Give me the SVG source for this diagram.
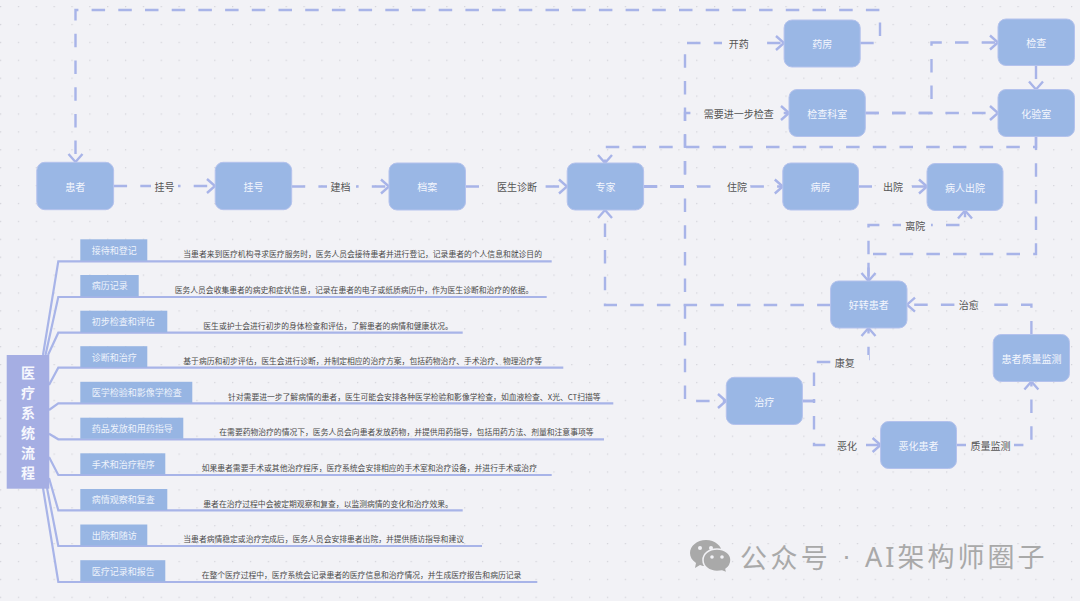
<svg xmlns="http://www.w3.org/2000/svg" width="1080" height="601" viewBox="0 0 1080 601">
<style>
text{font-family:"Noto Sans CJK SC","Liberation Sans",sans-serif}
.n rect{fill:#9ab7e5;stroke:#b4c2ed;stroke-width:1}
.n text{fill:#f4f6fd;font-size:10px;text-anchor:middle;dominant-baseline:central}
.c{fill:none;stroke:#a8b4e8;stroke-width:2.400;stroke-dasharray:13.5 13.2}
.h{marker-end:url(#a)}
.lb rect{fill:#f2f2f6}
.lb text{fill:#555;font-size:10px;text-anchor:middle;dominant-baseline:central}
.b{fill:none;stroke:#a8b4e8;stroke-width:2.200}
.s rect{fill:#97b5e3}
.s text{fill:#eef3fb;font-size:9px;dominant-baseline:central}
.d{fill:#4a4a4a;font-size:7.8px;dominant-baseline:central}
.w{fill:#a9a9a9;font-size:27px;dominant-baseline:central}
</style>
<defs>
<pattern id="p" x="0" y="6" width="17.85" height="17.9" patternUnits="userSpaceOnUse"><circle cx="0.7" cy="0.7" r="0.6" fill="#c9c9d0"/></pattern>
<marker id="a" markerUnits="userSpaceOnUse" markerWidth="20" markerHeight="20" refX="10" refY="10" orient="auto"><path d="M2 3L10 10L2 17" fill="none" stroke="#a8b4e8" stroke-width="2.400"/></marker>
</defs>
<rect width="1080" height="601" fill="#f2f2f6"/>
<rect width="1080" height="601" fill="url(#p)"/>

<g id="connectors">
<path class="c h" d="M860.2 43H880V10H75.5V162"/>
<path class="c h" d="M113.6 186H215"/>
<path class="c h" d="M291.7 186.5H389"/>
<path class="c h" d="M465.5 186.5H567"/>
<path class="c h" d="M643.6 186.5H782.8"/>
<path class="c h" d="M643.6 186.5H685V43H784"/>
<path class="c h" d="M643.6 186.5H685V113H789"/>
<path class="c h" d="M643.6 186.5H685V401H726"/>
<path class="c h" d="M865.3 113H998"/>
<path class="c h" d="M865.3 113H931.5V42.5H998"/>
<path class="c h" d="M1036 65.5V89.5"/>
<path class="c h" d="M1036 136.5V147H605V163"/>
<path class="c h" d="M1036 136.5V254H868.5V281"/>
<path class="c h" d="M858.5 186.5H927"/>
<path class="c h" d="M868.5 281V225H965V210.5"/>
<path class="c h" d="M830.6 305H605V210"/>
<path class="c h" d="M1031.4 334.5V304.7H907"/>
<path class="c h" d="M956.5 445H1031.4V381.5"/>
<path class="c h" d="M802.4 401H814V362H868.5V328"/>
<path class="c h" d="M802.4 401H814V445H880.6"/>
</g>

<g id="edge-labels" class="lb">
<rect x="151" y="179" width="27" height="14"/><text x="164.5" y="186">挂号</text>
<rect x="327" y="179" width="29" height="14"/><text x="340.5" y="186.5">建档</text>
<rect x="491" y="179" width="52" height="14"/><text x="517" y="186.5">医生诊断</text>
<rect x="712" y="179" width="38" height="14"/><text x="737" y="186.5">住院</text>
<rect x="722" y="36" width="32" height="14"/><text x="738.7" y="43">开药</text>
<rect x="698" y="106" width="81" height="14"/><text x="738.7" y="113">需要进一步检查</text>
<rect x="876" y="179" width="35" height="14"/><text x="893" y="186.5">出院</text>
<rect x="901" y="218" width="30" height="14"/><text x="915.3" y="225">离院</text>
<rect x="955" y="297" width="29" height="14"/><text x="968.7" y="304.5">治愈</text>
<rect x="832" y="355" width="37" height="14"/><text x="844.8" y="362">康复</text>
<rect x="826" y="438" width="40" height="14"/><text x="847" y="445">恶化</text>
<rect x="966" y="438" width="48" height="14"/><text x="990.4" y="445">质量监测</text>
</g>

<g id="n-huanzhe" class="n"><rect x="36.8" y="162.3" width="76.8" height="47.4" rx="8"/><text x="75.2" y="186">患者</text></g>
<g id="n-guahao" class="n"><rect x="215.2" y="162.3" width="76.5" height="47.4" rx="8"/><text x="253.5" y="186">挂号</text></g>
<g id="n-dangan" class="n"><rect x="389" y="163" width="76.5" height="47" rx="8"/><text x="427.2" y="186.5">档案</text></g>
<g id="n-zhuanjia" class="n"><rect x="567.2" y="163" width="76.4" height="47" rx="8"/><text x="605.4" y="186.5">专家</text></g>
<g id="n-yaofang" class="n"><rect x="784.1" y="20" width="76.1" height="47" rx="8"/><text x="822.2" y="43.5">药房</text></g>
<g id="n-jianchakeshi" class="n"><rect x="789" y="89.5" width="76.3" height="47" rx="8"/><text x="827.2" y="113">检查科室</text></g>
<g id="n-jiancha" class="n"><rect x="998" y="19" width="76.5" height="46.5" rx="8"/><text x="1036.2" y="42.3">检查</text></g>
<g id="n-huayanshi" class="n"><rect x="998" y="89.5" width="76.5" height="47" rx="8"/><text x="1036.2" y="113">化验室</text></g>
<g id="n-bingfang" class="n"><rect x="782.8" y="163" width="75.7" height="47" rx="8"/><text x="820.6" y="186.5">病房</text></g>
<g id="n-chuyuan" class="n"><rect x="927" y="163.5" width="76" height="47" rx="8"/><text x="965" y="187">病人出院</text></g>
<g id="n-haozhuan" class="n"><rect x="830.6" y="281" width="76.4" height="47" rx="8"/><text x="868.8" y="304.5">好转患者</text></g>
<g id="n-zhiliao" class="n"><rect x="726.3" y="377.3" width="76.1" height="47.2" rx="8"/><text x="764.3" y="401">治疗</text></g>
<g id="n-ehua" class="n"><rect x="880.6" y="421.5" width="75.9" height="47" rx="8"/><text x="918.5" y="445">恶化患者</text></g>
<g id="n-jiance" class="n"><rect x="993.2" y="334.5" width="76.3" height="47" rx="8"/><text x="1031.4" y="358">患者质量监测</text></g>

<g id="mindmap-branches">
<path class="b" d="M43 355L58.3 261.3H551.7"/>
<path class="b" d="M45.5 355L58.3 297H546.7"/>
<path class="b" d="M48 355L58.3 332.7H462.7"/>
<path class="b" d="M49 385L58.3 367.7H563.3"/>
<path class="b" d="M49 410L58.3 403.3H613.3"/>
<path class="b" d="M49 433.7L58.3 439.3H604"/>
<path class="b" d="M49 457L58.3 475H551.7"/>
<path class="b" d="M49 478L58.3 510.3H462.7"/>
<path class="b" d="M47 488L58.3 546H482"/>
<path class="b" d="M43 488L58.3 582H537.3"/>
</g>

<g id="root"><rect x="6.7" y="355" width="42.6" height="133.7" fill="#a5aee3"/>
<g fill="#f6f7fd" font-size="14px" font-weight="700" text-anchor="middle" dominant-baseline="central">
<text x="28" y="372">医</text><text x="28" y="392">疗</text><text x="28" y="412">系</text><text x="28" y="432">统</text><text x="28" y="452">流</text><text x="28" y="472">程</text></g></g>

<g id="t1" class="s"><rect x="80.3" y="239.3" width="67" height="21.5"/><text x="91.7" y="250">接待和登记</text></g>
<g id="t2" class="s"><rect x="80.3" y="275" width="58.4" height="21.5"/><text x="91.7" y="285.8">病历记录</text></g>
<g id="t3" class="s"><rect x="80.3" y="310.7" width="87" height="21.5"/><text x="91.7" y="321.5">初步检查和评估</text></g>
<g id="t4" class="s"><rect x="80.3" y="346.2" width="67" height="21"/><text x="91.7" y="357">诊断和治疗</text></g>
<g id="t5" class="s"><rect x="80.3" y="381.8" width="112" height="21"/><text x="91.7" y="392.7">医学检验和影像学检查</text></g>
<g id="t6" class="s"><rect x="80.3" y="417.7" width="103" height="21"/><text x="91.7" y="428.5">药品发放和用药指导</text></g>
<g id="t7" class="s"><rect x="80.3" y="453.3" width="85" height="21"/><text x="91.7" y="464">手术和治疗程序</text></g>
<g id="t8" class="s"><rect x="80.3" y="489" width="87" height="21"/><text x="91.7" y="499.7">病情观察和复查</text></g>
<g id="t9" class="s"><rect x="80.3" y="524.5" width="67" height="21"/><text x="91.7" y="535.5">出院和随访</text></g>
<g id="t10" class="s"><rect x="80.3" y="560.2" width="85" height="21.3"/><text x="91.7" y="571">医疗记录和报告</text></g>

<g id="descriptions">
<text class="d" x="183.3" y="253.3">当患者来到医疗机构寻求医疗服务时，医务人员会接待患者并进行登记，记录患者的个人信息和就诊目的</text>
<text class="d" x="174.7" y="289.3">医务人员会收集患者的病史和症状信息，记录在患者的电子或纸质病历中，作为医生诊断和治疗的依据。</text>
<text class="d" x="203.3" y="325">医生或护士会进行初步的身体检查和评估，了解患者的病情和健康状况。</text>
<text class="d" x="183.3" y="360.3">基于病历和初步评估，医生会进行诊断，并制定相应的治疗方案，包括药物治疗、手术治疗、物理治疗等</text>
<text class="d" x="228" y="396">针对需要进一步了解病情的患者，医生可能会安排各种医学检验和影像学检查，如血液检查、X光、CT扫描等</text>
<text class="d" x="219.3" y="431.7">在需要药物治疗的情况下，医务人员会向患者发放药物，并提供用药指导，包括用药方法、剂量和注意事项等</text>
<text class="d" x="201.7" y="467.3">如果患者需要手术或其他治疗程序，医疗系统会安排相应的手术室和治疗设备，并进行手术或治疗</text>
<text class="d" x="203.3" y="503">患者在治疗过程中会被定期观察和复查，以监测病情的变化和治疗效果。</text>
<text class="d" x="183.3" y="538.7">当患者病情稳定或治疗完成后，医务人员会安排患者出院，并提供随访指导和建议</text>
<text class="d" x="201.7" y="574.3">在整个医疗过程中，医疗系统会记录患者的医疗信息和治疗情况，并生成医疗报告和病历记录</text>
</g>

<g id="watermark">
<path d="M706 540c9 0 16 6 16 13c0 7-7 13-16 13c-2 0-4 0-6 -1l-5 3l1-5c-4-3-6-6-6-10c0-7 7-13 16-13z" fill="#a9a9a9"/>
<circle cx="700" cy="548" r="2" fill="#f2f2f6"/><circle cx="711" cy="548" r="2" fill="#f2f2f6"/>
<path d="M717 549c8 0 14 5 14 11c0 4-2 7-5 9l1 4l-5-2c-2 .5-3 .5-5 .5c-8 0-14-5-14-11.500s6-11 14-11z" fill="#a9a9a9" stroke="#f2f2f6" stroke-width="1.500"/>
<circle cx="712" cy="557" r="1.800" fill="#f2f2f6"/><circle cx="722" cy="557" r="1.800" fill="#f2f2f6"/>
<text class="w" x="740" y="556" letter-spacing="3.400">公众号</text>
<text class="w" x="846.500" y="556" text-anchor="middle" style="font-family:'Liberation Sans',sans-serif">·</text>
<text class="w" x="865" y="556" letter-spacing="3" style="font-family:'Noto Sans','Noto Sans CJK SC',sans-serif">AI架构师圈子</text>
</g>
</svg>
